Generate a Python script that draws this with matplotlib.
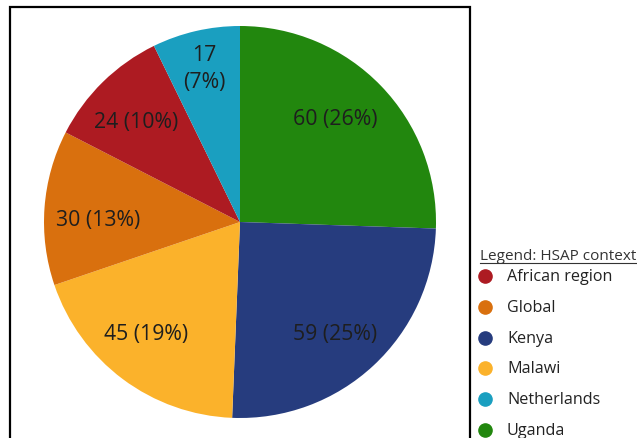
import matplotlib
matplotlib.use("Agg")
import matplotlib.pyplot as plt
from matplotlib.patches import Rectangle
from matplotlib.lines import Line2D

plt.rcParams['font.family'] = ['Open Sans', 'DejaVu Sans']

# HSAP context counts, clockwise from 12 o'clock
contexts = ['Uganda', 'Kenya', 'Malawi', 'Global', 'African region', 'Netherlands']
counts = [60, 59, 45, 30, 24, 17]
colors = ['#22870e', '#263c7e', '#fbb22b', '#d9700e', '#ad1b22', '#1a9fc0']

# legend order (alphabetical)
legend_order = ['African region', 'Global', 'Kenya', 'Malawi', 'Netherlands', 'Uganda']

# label placement inside each wedge: (x, y) in data units of the unit pie
label_xy = [(0.485, 0.53), (0.485, -0.571), (-0.48, -0.571),
            (-0.724, 0.015), (-0.531, 0.515), (-0.184, 0.786)]

W, H = 637, 439
fig = plt.figure(figsize=(W / 100, H / 100), dpi=100)

cx, cy, r = 240, 223, 196
ax = fig.add_axes([(cx - r) / W, (H - cy - r) / H, 2 * r / W, 2 * r / H])
wedges, _ = ax.pie(counts, colors=colors, startangle=90, counterclock=False,
                   radius=1.0, wedgeprops=dict(linewidth=0))
ax.set_xlim(-1, 1)
ax.set_ylim(-1, 1)
ax.set_aspect('equal')
ax.axis('off')

total = sum(counts)
for name, n, (x, y) in zip(contexts, counts, label_xy):
    pct = round(100 * n / total)
    txt = f"{n}\n({pct}%)" if name == 'Netherlands' else f"{n} ({pct}%)"
    ax.text(x, y, txt, ha='center', va='center', fontsize=15.3,
            color='#1e1e1e', linespacing=1.4)

# frame around the pie panel
fig.patches.append(Rectangle((10 / W, -0.05), 460 / W, (H - 8) / H + 0.05,
                             transform=fig.transFigure, fill=False,
                             edgecolor='black', linewidth=1.6))

# legend
col = dict(zip(contexts, colors))
tx, ty = 480 / W, 1 - 257 / H
title = fig.text(tx, ty, 'Legend: HSAP context', fontsize=11,
                 color='#333333', va='center', ha='left')
fig.canvas.draw()
bb = title.get_window_extent().transformed(fig.transFigure.inverted())
fig.lines.append(Line2D([bb.x0, bb.x1], [bb.y0 + 0.002, bb.y0 + 0.002],
                        transform=fig.transFigure, color='#333333', linewidth=0.8))

for i, name in enumerate(legend_order):
    y = 1 - (277 + i * 30.8) / H
    fig.lines.append(Line2D([485 / W], [y], transform=fig.transFigure, marker='o',
                            markersize=9.5, color=col[name], linestyle='none'))
    fig.text(507 / W, y, name, fontsize=11.6, color='#222222', va='center', ha='left')

fig.savefig('out.png', dpi=100)
